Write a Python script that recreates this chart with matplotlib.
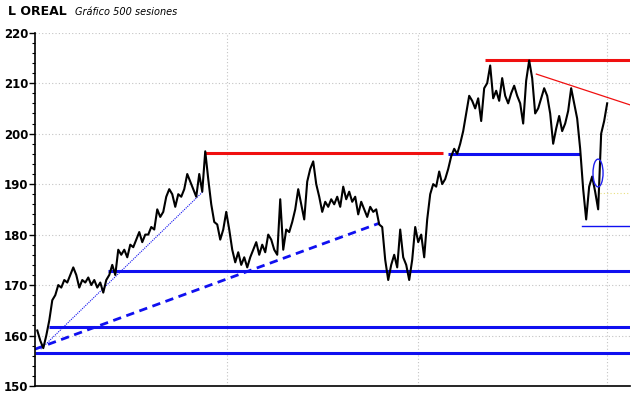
import numpy as np
import matplotlib
matplotlib.use("Agg")
import matplotlib.pyplot as plt
from matplotlib.patches import Ellipse

# Precio de cierre (lectura aproximada del gráfico, 500 sesiones)
close = [
    161, 159, 157.5, 160, 163, 167, 168, 170, 169.5, 171,
    170.5, 172, 173.5, 172, 169.5, 171, 170.5, 171.5, 170, 171,
    169.5, 170.5, 168.5, 171, 172, 174, 172, 177, 176, 177,
    175.5, 178, 177.5, 179, 180.5, 178.5, 180,
    180, 181.5, 181, 185, 183.5, 184.5, 187.5, 189, 188, 185.5,
    188, 187.5, 189, 192, 190.5, 189, 187.5, 192, 188.5, 196.5,
    191, 186, 182.5, 182, 179, 181, 184.5, 181, 177, 174.5,
    176.5, 174, 175.5, 173.5, 175.5,
    177, 178.5, 176, 178, 176.5, 180, 179, 177, 176, 187,
    177, 181, 180.5, 182.5, 185, 189, 186, 183, 190.5, 193,
    194.5, 190, 187.5, 184.5, 186.5, 185.5, 187, 186, 187.5, 185.5,
    189.5, 187, 188.5, 186.5, 187.5,
    184, 186.5, 185, 183.5, 185.5, 184.5, 185, 182, 181.5, 175,
    171, 174, 176, 173.5, 181, 175.5, 174, 171, 175, 181.5,
    178.5, 180, 175.5, 183, 188, 190, 189.5, 192.5, 190, 191,
    193, 195.5, 197, 196, 198,
    200.5, 204, 207.5, 206.5, 205, 207, 202.5, 209, 210, 213.5,
    207, 208.5, 206.5, 211, 207.5, 206, 208, 209.5, 207.5, 206,
    202, 210.5, 214.5, 211, 204,
    205, 207, 209, 207.5, 204, 198, 201, 203.5, 200.5, 202,
    204.5, 209, 206, 203, 197, 189, 183, 189.5, 191.5, 188.5,
    185, 200, 202.5, 206,
]
sessions = np.linspace(0, 499, len(close))

# Soportes / resistencias horizontales: nivel, sesión inicio, sesión fin
blue_levels = [172.7, 161.6, 156.5, 196.0]
blue_start = [62, 10, -2, 360]
blue_end = [519, 519, 519, 475]
red_levels = [196.2, 214.6]
red_start = [147, 392]
red_end = [355, 519]
thin_support = 181.8
thin_support_span = [477, 519]

# Directrices
dash_x = [-2, 300]
dash_y = [157.3, 182.3]
dot_x = [3, 145]
dot_y = [157.3, 188.5]
red_slope_x = [437, 519]
red_slope_y = [211.8, 205.7]

fig = plt.figure(figsize=(6.4, 3.98), dpi=100)
ax = fig.add_axes([35 / 640, 12 / 398, 595 / 640, 353.3 / 398])

# rejilla punteada
for v in range(160, 221, 10):
    ax.axhline(v, color="#c4c4c4", lw=0.8, ls=(0, (1, 2)), zorder=0)
for s in [166, 333, 499]:
    ax.axvline(s, color="#c4c4c4", lw=0.8, ls=(0, (1, 2)), zorder=0)
ax.plot([493, 519], [188.3, 188.3], color="#e8e080", lw=0.8, ls=(0, (1, 2)), zorder=0)

for lev, a, b in zip(blue_levels, blue_start, blue_end):
    ax.plot([a, b], [lev, lev], color="#1010f0", lw=2.2, solid_capstyle="butt", zorder=2)
for lev, a, b in zip(red_levels, red_start, red_end):
    ax.plot([a, b], [lev, lev], color="#f01010", lw=2.2, solid_capstyle="butt", zorder=2)
ax.plot(thin_support_span, [thin_support, thin_support], color="#1010f0", lw=1.0, zorder=2)

ax.plot(dash_x, dash_y, color="#1010f0", lw=2.0, ls=(0, (3, 2)), zorder=2)
ax.plot(dot_x, dot_y, color="#1010f0", lw=0.8, ls=(0, (1, 1)), zorder=2)
ax.plot(red_slope_x, red_slope_y, color="#f01010", lw=0.9, zorder=2)

ax.plot(sessions, close, color="black", lw=1.5, zorder=3)

ax.add_patch(Ellipse((491, 192.2), 8.8, 5.5, fill=False, ec="#2020f0", lw=1.0, zorder=4))

ax.set_xlim(-2, 519)
ax.set_ylim(150, 220)
ax.set_yticks(range(150, 221, 10))
ax.set_yticks(range(150, 221, 2), minor=True)
ax.set_xticks([])
for side in ["top", "right"]:
    ax.spines[side].set_visible(False)
ax.spines["left"].set_linewidth(1.2)
ax.spines["bottom"].set_linewidth(1.2)
ax.tick_params(axis="y", which="major", length=4, width=1, pad=1, labelsize=8.5)
ax.tick_params(axis="y", which="minor", length=2.5, width=0.8)
for lab in ax.get_yticklabels():
    lab.set_fontweight("bold")

fig.text(8 / 640, 1 - 15 / 398, "L OREAL", fontsize=9, fontweight="bold", va="baseline")
fig.text(75 / 640, 1 - 15 / 398, "Gráfico 500 sesiones", fontsize=7, style="italic", va="baseline")

fig.savefig("out.png", dpi=100)
